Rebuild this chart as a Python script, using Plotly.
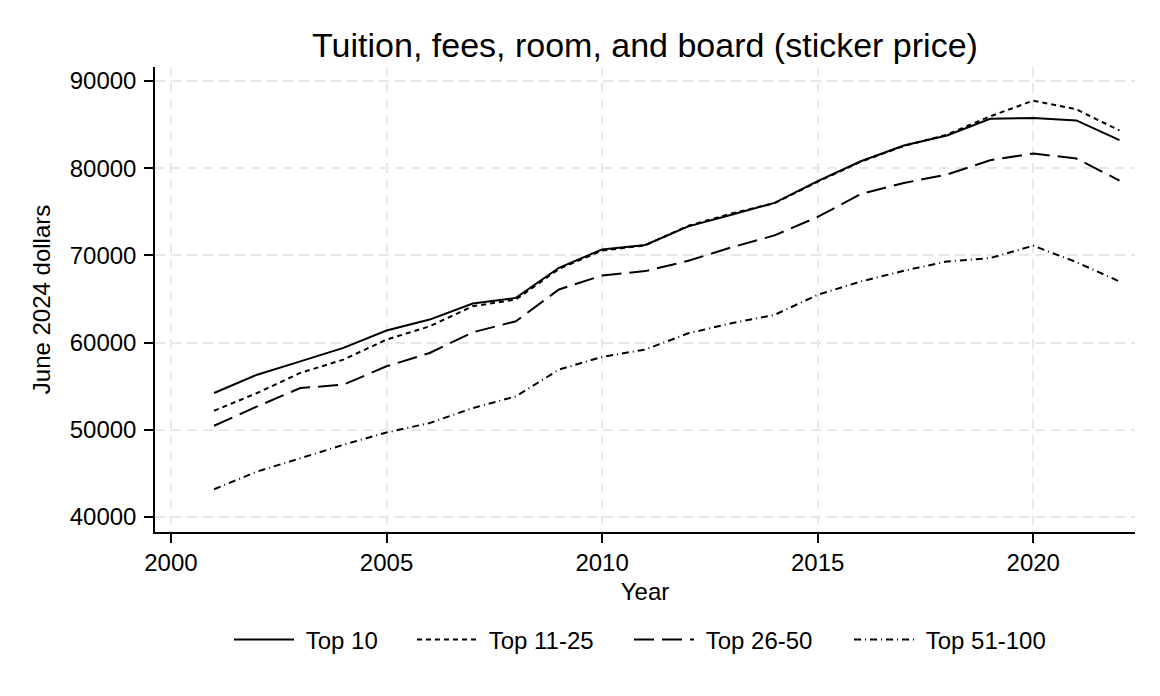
import plotly.graph_objects as go

years = list(range(2001, 2023))

top_10 = [54220, 56320, 57850, 59390, 61380, 62640, 64480, 65130, 68580, 70690, 71200,
          73330, 74670, 76020, 78510, 80800, 82600, 83750, 85670, 85750, 85480, 83220]
top_11_25 = [52180, 54220, 56520, 58050, 60340, 61870, 64170, 64940, 68450, 70550, 71150,
             73400, 74800, 76000, 78450, 80750, 82550, 83850, 85950, 87750, 86750, 84330]
top_26_50 = [50460, 52680, 54790, 55170, 57280, 58810, 61180, 62450, 66090, 67700, 68200,
             69380, 70920, 72300, 74410, 77050, 78310, 79270, 80920, 81690, 81110, 78580]
top_51_100 = [43180, 45210, 46740, 48280, 49690, 50770, 52490, 53830, 56900, 58360, 59200,
              61070, 62220, 63180, 65480, 67010, 68240, 69310, 69690, 71110, 69230, 67010]

series_names = ["Top 10", "Top 11-25", "Top 26-50", "Top 51-100"]
series_values = [top_10, top_11_25, top_26_50, top_51_100]
dashes = ["solid", "5px,4px", "20px,8px", "7px,4px,1px,4px"]

x_ticks = [2000, 2005, 2010, 2015, 2020]
y_ticks = [40000, 50000, 60000, 70000, 80000, 90000]

# the page body adds an 8px margin, so the figure is a bit smaller than the window
W, H = 1144, 680
font_family = "Liberation Sans, Arial, sans-serif"

# where each legend entry starts (px from the figure's left edge)
legend_x = [221, 404, 621, 841]
legend_ids = ["legend", "legend2", "legend3", "legend4"]

fig = go.Figure()
for name, vals, dash, lid in zip(series_names, series_values, dashes, legend_ids):
    fig.add_trace(go.Scatter(x=years, y=vals, mode="lines", name="\u00a0" + name,
                             legend=lid,
                             line=dict(color="black", width=2, dash=dash)))

axis_common = dict(showline=True, linecolor="black", linewidth=1.5,
                   ticks="outside", ticklen=9, tickwidth=1.5, tickcolor="black",
                   showgrid=True, gridcolor="#e8e8e8", gridwidth=1.5, griddash="10px,6px",
                   zeroline=False, mirror=False,
                   tickfont=dict(size=24, color="black", family=font_family),
                   title_font=dict(size=24, color="black", family=font_family))

fig.update_xaxes(range=[1999.63, 2022.36], tickvals=x_ticks, tickformat="d",
                 title_text="Year", title_standoff=9, ticklabelstandoff=-1, **axis_common)
fig.update_yaxes(range=[38276, 91610], tickvals=y_ticks, tickformat="d",
                 title_text="June 2024 dollars", title_standoff=12, ticklabelstandoff=3,
                 **axis_common)

legends = {}
for lid, lx in zip(legend_ids, legend_x):
    legends[lid] = dict(orientation="h", x=lx / W, xref="container", xanchor="left",
                        y=1 - 632 / H, yref="container", yanchor="middle",
                        itemwidth=60, borderwidth=0, bgcolor="rgba(0,0,0,0)",
                        font=dict(size=24, color="black", family=font_family))

fig.update_layout(
    width=W, height=H,
    template="none",
    plot_bgcolor="white", paper_bgcolor="white",
    font=dict(family=font_family, color="black", size=24),
    margin=dict(l=147, r=17, t=59, b=156),
    title=dict(text="Tuition, fees, room, and board (sticker price)",
               x=0.5, xref="paper", y=1 - 37 / H, yref="container",
               xanchor="center", yanchor="middle",
               font=dict(size=34, color="black", family=font_family)),
    showlegend=True,
    **legends,
)

fig.write_html("out.html")
